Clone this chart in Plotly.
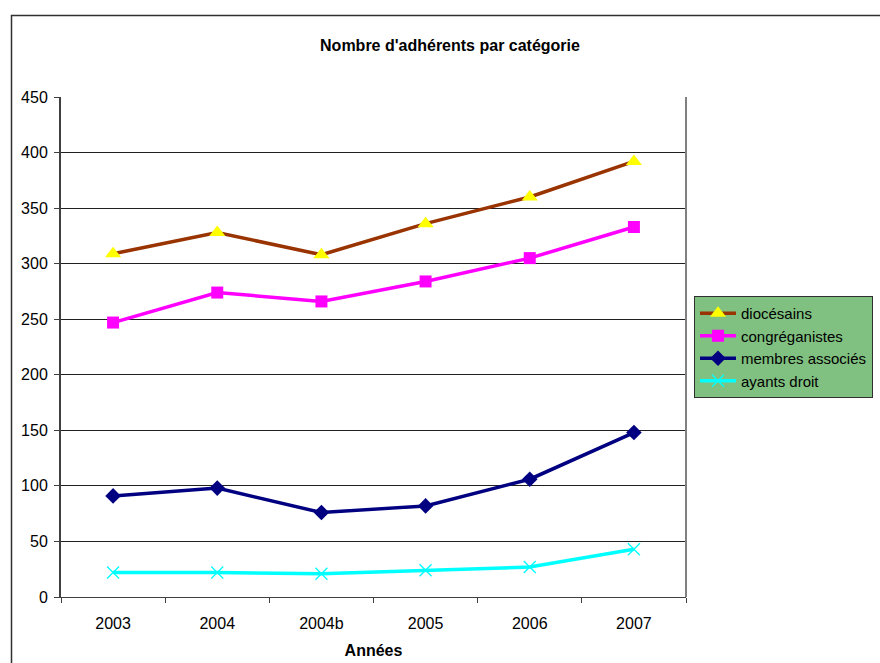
import plotly.graph_objects as go

years = ["2003", "2004", "2004b", "2005", "2006", "2007"]
diocesains = [309, 328, 308, 336, 360, 392]
congreganistes = [247, 274, 266, 284, 305, 333]
membres_associes = [91, 98, 76, 82, 106, 148]
ayants_droit = [22, 22, 21, 24, 27, 43]
y_ticks = [0, 50, 100, 150, 200, 250, 300, 350, 400, 450]

FONT = "Liberation Sans, Arial, sans-serif"
FS = 16

fig = go.Figure()
fig.add_trace(go.Scatter(
    x=years, y=diocesains, name="diocésains", mode="lines+markers",
    line=dict(color="#993300", width=3.5),
    marker=dict(symbol="triangle-up", color="#FFFF00", size=14, line=dict(width=0)),
))
fig.add_trace(go.Scatter(
    x=years, y=congreganistes, name="congréganistes", mode="lines+markers",
    line=dict(color="#FF00FF", width=3.5),
    marker=dict(symbol="square", color="#FF00FF", size=12, line=dict(width=0)),
))
fig.add_trace(go.Scatter(
    x=years, y=membres_associes, name="membres associés", mode="lines+markers",
    line=dict(color="#000080", width=3.5),
    marker=dict(symbol="diamond", color="#000080", size=12, line=dict(width=0)),
))
fig.add_trace(go.Scatter(
    x=years, y=ayants_droit, name="ayants droit", mode="lines+markers",
    line=dict(color="#00FFFF", width=3.5),
    marker=dict(symbol="x-thin", color="#00FFFF", size=12, line=dict(width=1.3, color="#00FFFF")),
))

fig.update_layout(
    width=880, height=663,
    margin=dict(l=61, r=194, t=97, b=66, autoexpand=False),
    paper_bgcolor="white", plot_bgcolor="white",
    font=dict(family=FONT, size=FS, color="black"),
    title=dict(text="<b>Nombre d'adhérents par catégorie</b>", x=450/880, xanchor="center",
               y=1 - 45/663, yanchor="middle", font=dict(size=FS, family=FONT, color="black")),
    showlegend=True,
    legend=dict(xref="container", yref="container", x=694 / 880, xanchor="left",
                y=1 - 296 / 663, yanchor="top",
                bgcolor="#80C080", bordercolor="#303030", borderwidth=1,
                font=dict(size=15, family=FONT, color="black"), itemwidth=36,
                tracegroupgap=0),
    xaxis=dict(type="category", range=[-0.5, 5.5], showgrid=False,
               showline=True, linecolor="#404040", linewidth=1,
               ticks="outside", tickson="boundaries", ticklen=5, tickcolor="#404040",
               ticklabelstandoff=12,
               tickfont=dict(size=FS, family=FONT, color="black"),
               title=dict(text="<b>Années</b>", font=dict(size=FS, family=FONT, color="black"), standoff=13)),
    yaxis=dict(range=[0, 450], tickvals=y_ticks, showgrid=True, gridcolor="#202020", gridwidth=1,
               zeroline=False, showline=True, linecolor="#404040", linewidth=2,
               ticks="outside", ticklen=5, tickcolor="#404040",
               ticklabelstandoff=3,
               tickfont=dict(size=FS, family=FONT, color="black")),
    shapes=[
        dict(type="line", xref="paper", yref="paper", x0=1, x1=1, y0=0, y1=1,
             line=dict(color="#808080", width=2)),
        dict(type="rect", xref="paper", yref="paper",
             x0=(11.5 - 61) / 625, x1=(900 - 61) / 625,
             y0=(597 - 700) / 500, y1=(597 - 15.5) / 500,
             line=dict(color="#303030", width=1.5), layer="below"),
    ],
)

fig.write_html("out.html")
